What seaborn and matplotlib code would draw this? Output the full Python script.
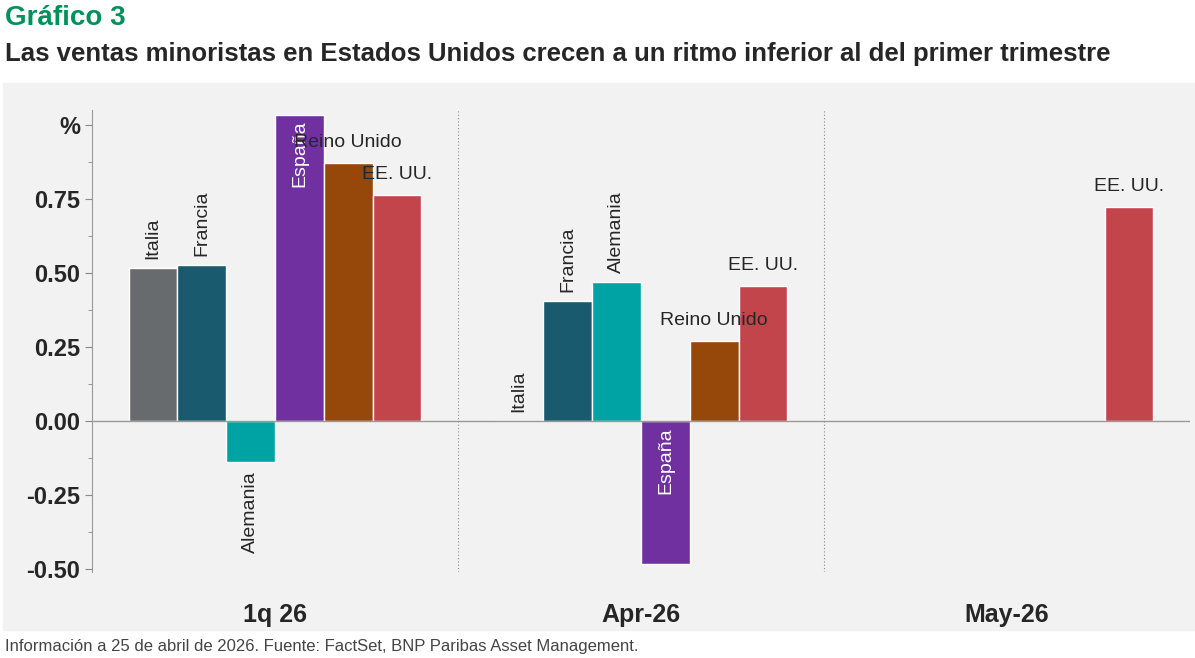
import matplotlib.pyplot as plt
import matplotlib.patches as mpatches
import numpy as np
import pandas as pd
import seaborn as sns

periods = ["1q 26", "Apr-26", "May-26"]
countries = ["Italia", "Francia", "Alemania", "España", "Reino Unido", "EE. UU."]
colors = ["#686b6e", "#1a5a6e", "#00a3a3", "#7030a0", "#96470a", "#c3454c"]
values = {
    "Italia": [0.517, 0.0, np.nan],
    "Francia": [0.527, 0.405, np.nan],
    "Alemania": [-0.139, 0.470, np.nan],
    "España": [1.034, -0.483, np.nan],
    "Reino Unido": [0.872, 0.270, np.nan],
    "EE. UU.": [0.764, 0.456, 0.723],
}

rows = []
for c in countries:
    for p, v in zip(periods, values[c]):
        rows.append({"period": p, "country": c, "value": v})
df = pd.DataFrame(rows)

sns.set_style("white")
plt.rcParams['font.family'] = ['Liberation Sans', 'DejaVu Sans']

fig = plt.figure(figsize=(11.95, 6.58), dpi=100)
fig.patches.append(mpatches.Rectangle((3 / 1195, 1 - 630 / 658), 1192 / 1195, 547 / 658,
                                      transform=fig.transFigure, color="#f2f2f2", zorder=-5))
ax = fig.add_axes([92 / 1195, 1 - 572 / 658, 1098 / 1195, 462 / 658])
ax.set_facecolor("none")
ax.set_zorder(2)

sns.barplot(data=df.dropna(), x="period", y="value", hue="country", order=periods,
            hue_order=countries, palette=colors, width=0.8, ax=ax, legend=False,
            saturation=1, errorbar=None)

ax.set_xlim(-0.5, 2.5)
ax.set_ylim(-0.51, 1.05)
ax.axhline(0, color="#999999", lw=1)
for xv in [0.5, 1.5]:
    ax.axvline(xv, color="#888888", lw=0.8, ls=(0, (1, 2)))

bw = 0.8 / 6
for gi, p in enumerate(periods):
    for j, c in enumerate(countries):
        v = values[c][gi]
        if np.isnan(v):
            continue
        x = gi - 0.4 + bw * (j + 0.5)
        horiz = c in ("Reino Unido", "EE. UU.")
        if c == "España":
            top = v if v > 0 else 0
            ax.text(x, top - 0.02, c, rotation=90, ha="center", va="top", color="white", fontsize=14)
        elif horiz:
            ax.text(x, v + 0.04, c, ha="center", va="bottom", fontsize=14)
        elif v < 0:
            ax.text(x, v - 0.03, c, rotation=90, ha="center", va="top", fontsize=14)
        else:
            ax.text(x, v + 0.03, c, rotation=90, ha="center", va="bottom", fontsize=14)

yt = [-0.5, -0.25, 0, 0.25, 0.5, 0.75, 1.0]
ax.set_yticks(yt)
ax.set_yticklabels(["-0.50", "-0.25", "0.00", "0.25", "0.50", "0.75", "%"],
                   fontsize=17, fontweight="bold")
ax.set_yticks(np.arange(-0.375, 1.0, 0.25), minor=True)
ax.tick_params(axis="y", which="major", length=5, color="#888888", left=True)
ax.tick_params(axis="y", which="minor", length=3, color="#888888", left=True)
ax.tick_params(axis="x", length=0, labelsize=18, pad=22)
for lbl in ax.get_xticklabels():
    lbl.set_fontweight("bold")
ax.set_xlabel("")
ax.set_ylabel("")
for s in ["top", "right", "bottom"]:
    ax.spines[s].set_visible(False)
ax.spines["left"].set_color("#999999")

fig.text(5 / 1195, 1 - 18 / 658, "Gráfico 3", color="#00915a", fontsize=20,
         fontweight="bold", va="center")
fig.text(5 / 1195, 1 - 54 / 658,
         "Las ventas minoristas en Estados Unidos crecen a un ritmo inferior al del primer trimestre",
         fontsize=18.5, fontweight="bold", va="center")
fig.text(5 / 1195, 1 - 646 / 658,
         "Información a 25 de abril de 2026. Fuente: FactSet, BNP Paribas Asset Management.",
         fontsize=12, color="#444444", va="center")

fig.savefig("out.png", dpi=100)
